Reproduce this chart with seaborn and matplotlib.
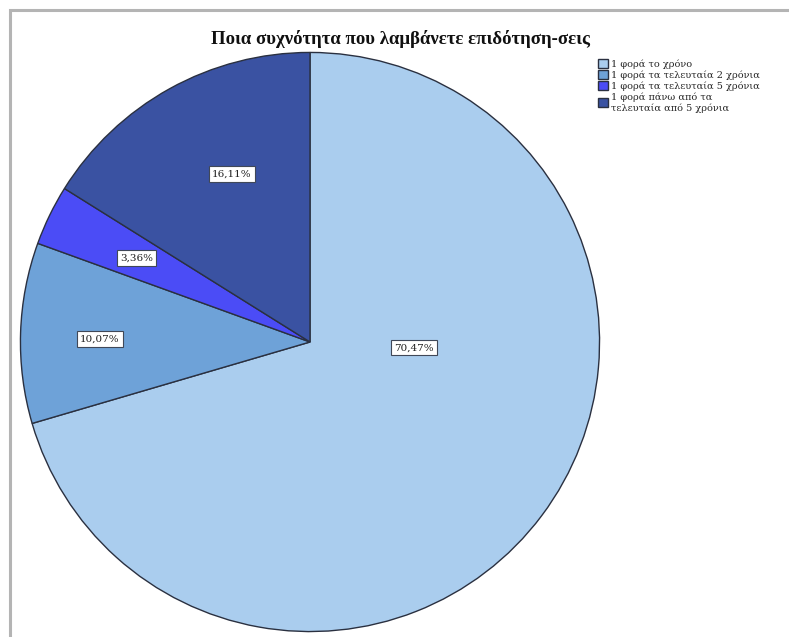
import matplotlib
matplotlib.use("Agg")
import matplotlib.pyplot as plt
from matplotlib.patches import Rectangle
import seaborn as sns

# =============================================================================
# DADOS
# =============================================================================
titulo = "Ποια συχνότητα που λαμβάνετε επιδότηση-σεις"
categorias = [
    "1 φορά το χρόνο",
    "1 φορά τα τελευταία 2 χρόνια",
    "1 φορά τα τελευταία 5 χρόνια",
    "1 φορά πάνω από τα\nτελευταία από 5 χρόνια",
]
percentagens = [70.47, 10.07, 3.36, 16.11]
rotulos = ["70,47%", "10,07%", "3,36%", "16,11%"]
cores = sns.color_palette(["#aacdee", "#6ea2d8", "#4b4cf6", "#3a52a2"])

# posicoes dos rotulos (coordenadas do circulo, raio = 1)
pos_rotulos = [(0.36, -0.02), (-0.725, 0.01), (-0.60, 0.29), (-0.27, 0.58)]

# =============================================================================
# FIGURA
# =============================================================================
sns.set_theme(style="white")
plt.rcParams['font.family'] = ['Liberation Serif', 'DejaVu Serif']

fig = plt.figure(figsize=(7.89, 6.37), dpi=100)
fig.patch.set_facecolor("white")

# moldura cinza
fig.patches.append(Rectangle((10 / 789, -0.2), 1.2, 1.2 - 10 / 637, fill=False,
                             edgecolor="#b4b4b4", lw=2.2, transform=fig.transFigure,
                             figure=fig))

ax = fig.add_axes([19 / 789, 4 / 637, 582 / 789, 582 / 637])
fatias, _ = ax.pie(percentagens, colors=cores, startangle=90, counterclock=False,
                   radius=1, wedgeprops=dict(edgecolor="#2a3040", linewidth=1.0))
ax.set_xlim(-1.005, 1.005)
ax.set_ylim(-1.005, 1.005)
ax.set_axis_off()

for (x, y), txt in zip(pos_rotulos, rotulos):
    ax.text(x, y, txt, ha="center", va="center", fontsize=7.5, color="#202020",
            family=["DejaVu Serif"],
            bbox=dict(boxstyle="square,pad=0.3", facecolor="white",
                      edgecolor="#404858", linewidth=0.8))

fig.text(400 / 789, 1 - 39 / 637, titulo, ha="center", va="center",
         fontsize=13.5, fontweight="bold", color="#101010")

leg = fig.legend(fatias, categorias, loc="upper left", bbox_to_anchor=(594 / 789, 1 - 55 / 637),
                 frameon=False, handlelength=1.0, handleheight=1.0,
                 handletextpad=0.3, labelspacing=0.15, borderaxespad=0,
                 prop=dict(family="DejaVu Serif", size=7))

fig.savefig("out.png", dpi=100, facecolor="white")
